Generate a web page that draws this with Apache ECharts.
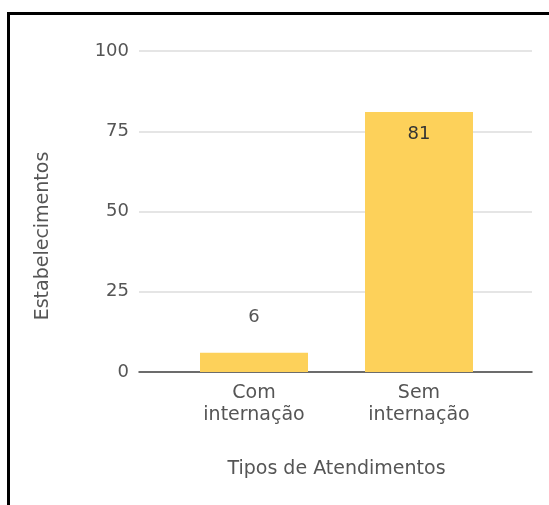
<!DOCTYPE html>
<html>
<head>
<meta charset="utf-8">
<script src="https://cdn.jsdelivr.net/npm/echarts@6/dist/echarts.min.js"></script>
<style>
  html, body { margin: 0; padding: 0; background: #fff; }
  #chart { width: 549px; height: 505px; }
</style>
</head>
<body>
<div id="chart"></div>
<script>
// Tipos de atendimento e número de estabelecimentos
const categories = ['Com\ninternação', 'Sem\ninternação'];
const estabelecimentos = [6, 81];
const yTicks = [0, 25, 50, 75, 100];

const FONT = 'DejaVu Sans';
const TEXT = '#555';
const BAR = '#fdd15a';

// label placement: small bar gets its label above, tall bar inside its top
const labelPos = estabelecimentos.map(v => v > 20
  ? { position: 'insideTop', distance: 13, color: '#333' }
  : { position: 'top', distance: 26, color: TEXT });

const chart = echarts.init(document.getElementById('chart'), null, { renderer: 'canvas' });

chart.setOption({
  animation: false,
  grid: [
    { left: 139, right: 17, top: 51, bottom: 133 },
    { left: 171.5, right: 47.5, top: 51, bottom: 133 }
  ],
  xAxis: [
    {
      gridIndex: 0, type: 'value', min: 0, max: 1,
      axisLine: { show: true, onZero: false, lineStyle: { color: '#444', width: 1.5 } },
      axisTick: { show: false }, axisLabel: { show: false }, splitLine: { show: false }
    },
    {
      gridIndex: 1, type: 'category', data: categories,
      axisLine: { show: false }, axisTick: { show: false },
      axisLabel: { color: TEXT, fontFamily: FONT, fontSize: 19, lineHeight: 22, margin: 10 },
      name: 'Tipos de Atendimentos', nameLocation: 'middle', nameGap: 88,
      nameTextStyle: { color: TEXT, fontFamily: FONT, fontSize: 19 }
    }
  ],
  yAxis: [
    {
      gridIndex: 0, type: 'value', min: yTicks[0], max: yTicks[yTicks.length - 1],
      interval: yTicks[1] - yTicks[0],
      axisLine: { show: false }, axisTick: { show: false },
      axisLabel: { color: TEXT, fontFamily: FONT, fontSize: 18, margin: 10 },
      splitLine: { lineStyle: { color: '#dcdcdc', width: 1.5 } }
    },
    {
      gridIndex: 1, type: 'value', min: yTicks[0], max: yTicks[yTicks.length - 1],
      show: false, splitLine: { show: false }
    }
  ],
  series: [{
    type: 'bar',
    xAxisIndex: 1, yAxisIndex: 1,
    barWidth: 108,
    itemStyle: { color: BAR },
    data: estabelecimentos.map((v, i) => ({
      value: v,
      label: Object.assign({ show: true, fontFamily: FONT, fontSize: 18 }, labelPos[i])
    }))
  }],
  graphic: [
    {
      type: 'text', x: 43, y: 236, rotation: Math.PI / 2,
      style: { text: 'Estabelecimentos', fill: TEXT, font: '19px "DejaVu Sans"', align: 'center', verticalAlign: 'middle' }
    },
    {
      type: 'rect', silent: true,
      shape: { x: 8.5, y: 13.5, width: 700, height: 700 },
      style: { fill: 'none', stroke: '#000', lineWidth: 3 }
    }
  ]
});
</script>
</body>
</html>
